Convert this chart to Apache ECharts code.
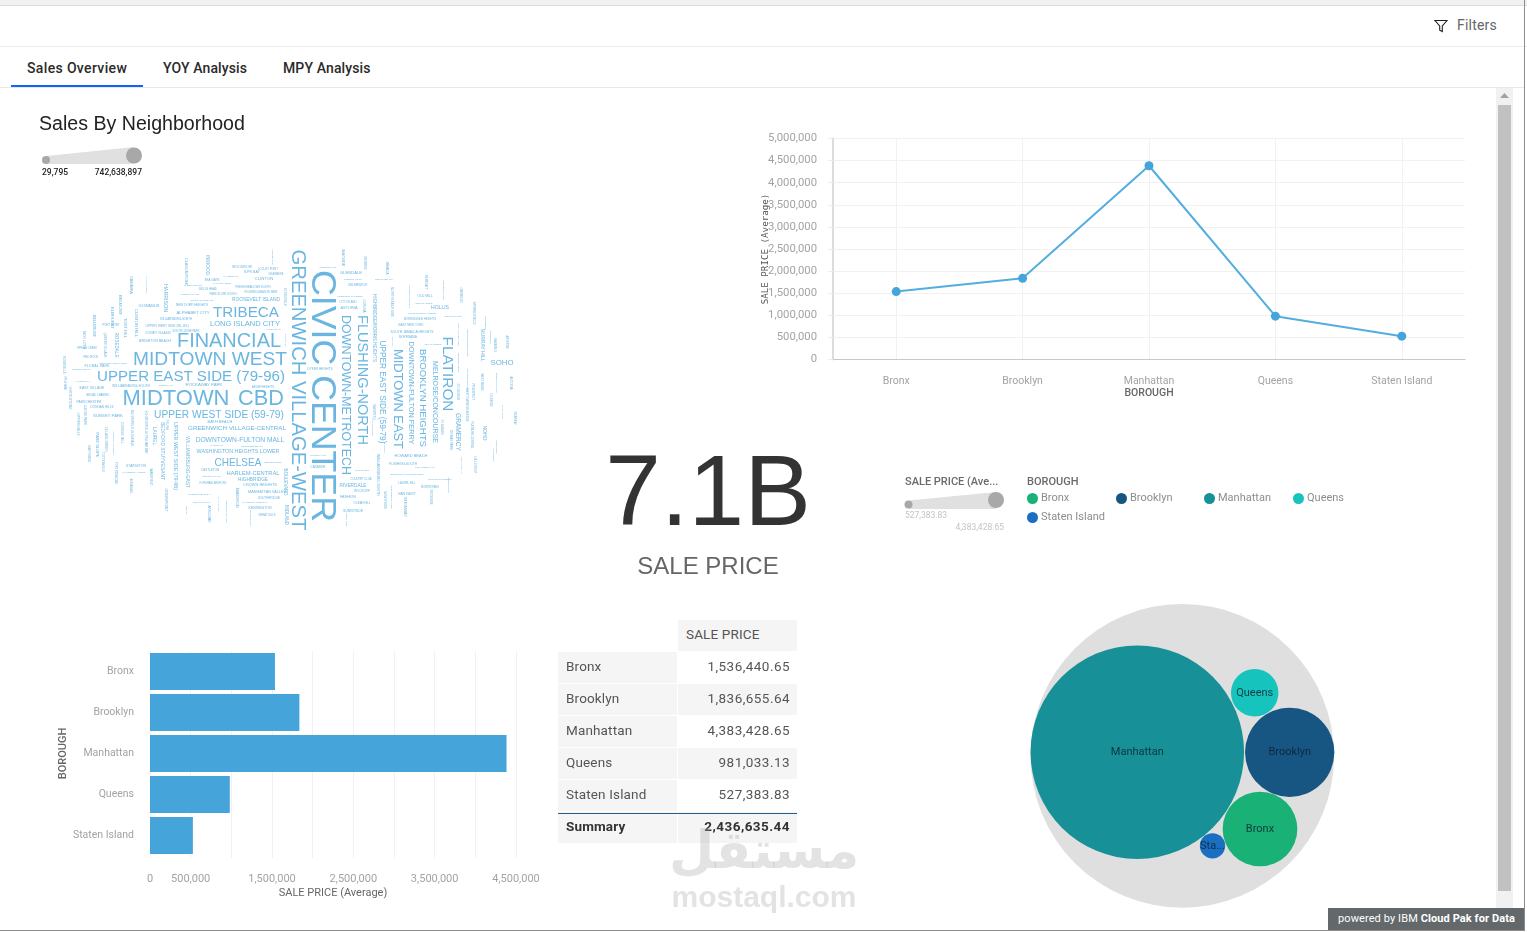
<!DOCTYPE html>
<html>
<head>
<meta charset="utf-8">
<title>Sales Overview</title>
<script src="https://cdn.jsdelivr.net/npm/echarts@6/dist/echarts.min.js"></script>
<style>
  html, body { margin: 0; width: 1527px; height: 932px; overflow: hidden; background: #fff; font-family: Roboto, "Noto Sans", sans-serif; }
  .box { position: absolute; }
  #chart { position: absolute; left: 0; top: 0; width: 1527px; height: 932px; }
  .tab { position: absolute; top: 59px; font-size: 14px; font-weight: 500; color: #2a2a2a; line-height: 18px; letter-spacing: .12px; }
  #table div { position: absolute; box-sizing: border-box; height: 31px; line-height: 29px; font-size: 13.5px; color: #555; letter-spacing: .45px; }
  #table div.lab { letter-spacing: .15px; }
  .shade { background: #f5f5f5; }
  .num { text-align: right; padding-right: 7px; }
  .lab { padding-left: 8px; }
</style>
</head>
<body>
<div class="box" style="left:0;top:0;width:1527px;height:5px;background:#f1f1f1;border-bottom:1px solid #dcdcdc"></div>
<div class="box" style="left:0;top:46px;width:1527px;height:1px;background:#ebebeb"></div>
<svg class="box" style="left:1434px;top:19px" width="14" height="14" viewBox="0 0 14 14"><path d="M1 1.5h12L8.3 7v5.5l-2.6-1.3V7z" fill="none" stroke="#222" stroke-width="1.1"/></svg>
<div class="box" style="left:1457px;top:17px;font-size:14px;color:#666;letter-spacing:.2px">Filters</div>
<div class="tab" style="left:27px;letter-spacing:.35px">Sales Overview</div>
<div class="tab" style="left:163px">YOY Analysis</div>
<div class="tab" style="left:283px">MPY Analysis</div>
<div class="box" style="left:0;top:87px;width:1525px;height:1px;background:#e8e8e8"></div>
<div class="box" style="left:11px;top:85px;width:132px;height:2px;background:#0f62fe"></div>

<div class="box" style="left:1496px;top:88px;width:17px;height:842px;background:#f1f1f1"></div>
<div class="box" style="left:1498px;top:105px;width:13px;height:786px;background:#c1c1c1"></div>
<svg class="box" style="left:1500px;top:93px" width="9" height="6"><path d="M4.5 0L9 5H0z" fill="#a3a3a3"/></svg>
<div class="box" style="left:1524px;top:0;width:1px;height:931px;background:#8d8d8d"></div>
<div class="box" style="left:0;top:930px;width:1525px;height:1px;background:#8d8d8d"></div>

<div id="chart"></div>
<div id="table"></div>

<div class="box" style="left:664px;top:815px;width:200px;text-align:center;font:bold 52px 'DejaVu Sans';color:rgba(170,170,170,.33);line-height:70px" dir="rtl">مستقل</div>
<div class="box" style="left:664px;top:880px;width:200px;text-align:center;font:bold 30px 'Liberation Sans';color:rgba(170,170,170,.33);line-height:34px">mostaql.com</div>

<div class="box" style="left:1328px;top:908px;width:196px;height:22px;background:#63696b;color:#fff;font-size:11px;line-height:21px;text-indent:10px;white-space:nowrap;letter-spacing:.1px">powered by IBM <b>Cloud Pak for Data</b></div>

<script>
const boroughs = ['Bronx', 'Brooklyn', 'Manhattan', 'Queens', 'Staten Island'];
const salePrice = [1536440.65, 1836655.64, 4383428.65, 981033.13, 527383.83];
const summaryPrice = 2436635.44;
const boroughColors = ['#19b176', '#175682', '#179098', '#17c3bd', '#1a6fc2'];
const barTickLabels = [0, 500000, 1500000, 2500000, 3500000, 4500000];

// circle pack: centre x, centre y, diameter
const packX = [1260, 1289.7, 1137.3, 1254.7, 1212.5];
const packY = [829, 752.3, 752.2, 692.8, 845.8];
const packSize = [74.7, 89.3, 213.5, 47.5, 25.3];
const packOuter = [1182.3, 755.8, 303.7];

// word cloud: word, centre x, centre y, length along the word
const flatWords = [
  ['TRIBECA',246,312,66],['LONG ISLAND CITY',245,323,70],['FINANCIAL',229,341,104],['MIDTOWN WEST',210,359,154],
  ['UPPER EAST SIDE (79-96)',191,376,188],['MIDTOWN',176,398,107],['CBD',261,398,46],['UPPER WEST SIDE (59-79)',219,414,130],
  ['GREENWICH VILLAGE-CENTRAL',237,427,98],['DOWNTOWN-FULTON MALL',240,439,89],['WASHINGTON HEIGHTS LOWER',238,451,83],
  ['CHELSEA',238,462,47],['HARLEM-CENTRAL',253,472,53],['CROWN HEIGHTS',260,484,34],['KENSINGTON',260,507,23],
  ['SOHO',502,362,23],['RIVERDALE',353,485,27],['ASTORIA',349,307,17],['BUSHWICK',358,284,19],['ROOSEVELT ISLAND',256,299,48],
  ['ALPHABET CITY',193,312,33],['GOWANUS',149,305,21],['CLINTON',264,278,19],['KIPS BAY',252,271,16],['SUNSET PARK',108,415,30],
  ['WOODROW',242,266,20],['LOCUST POINT',268,268,20],['GRASMERE',276,273,15],['MARBLE HILL',231,275,15],['SEA GATE',212,279,15],
  ['MANOR HEIGHTS',193,284,18],['OAKLAND GARDENS',222,283,18],['BULLS HEAD',208,288,18],['FRESH MEADOWS SOUTH',253,286,35],
  ['FLUSHING-MEADOW PARK',261,291,33],['MIDDLE VILLAGE',190,293,18],['PARK SLOPE SOUTH',223,293,27],['NORTH RIVERDALE',202,299,23],
  ['NEW DORP-HEIGHTS',192,304,32],['WILLIAMSBURG-NORTH',176,318,32],['UPPER WEST SIDE (96-116)',167,325,43],['JACKSON HEIGHTS',273,329,15],
  ['CONEY ISLAND',158,332,26],['SOUTH OZONE PARK',186,330,27],['BRIGHTON BEACH',155,340,32],['SPRING CREEK',87,347,20],['PORT IVORY',111,324,17],
  ['RED HOOK',91,356,15],['WEST NEW BRIGHTON',113,362,28],['FLORAL PARK',97,365,25],['PROSPECT HEIGHTS',81,369,18],['FAR ROCKAWAY',83,380,15],
  ['EAST VILLAGE',92,387,25],['WILLIAMSBURG-SOUTH',131,385,38],['BOERUM HILL',166,384,14],['ROCKAWAY PARK',204,384,37],['ARDEN HEIGHTS',263,386,22],
  ['FLATBUSH-CENTRAL',255,501,25],['CASTLETON',210,469,18],['BOROUGH PARK',212,475,18],['HIGHBRIDGE',253,479,30],['FORDHAM-BEDFORD',213,482,27],
  ['BATH BEACH',220,421,25],['MARINE PARK',217,444,13],['GERRITSEN BEACH',252,445,22],['BENSONHURST',273,461,17],['MANHATTAN VALLEY',267,491,38],
  ['SOUTHBRIDGE',269,497,22],['SHEEPSHEAD BAY',200,493,23],['OCEAN PARKWAY',202,501,18],['GREAT KILLS',267,514,17],['STAPLETON',136,465,20],
  ['MARINERS HARBOR',134,471,23],['PARKCHESTER',89,401,25],['DONGAN HILLS',102,406,23],['BROAD CHANNEL',98,394,23],['EMERSON HILL',328,266,17],
  ['GLENDALE',351,272,22],['FOREST HILLS',353,278,18],['PROSPECT GARDENS',350,295,25],['CITY ISLAND',348,301,17],['SOUTH BEACH',384,278,18],
  ['OLD MILL',425,295,15],['DOUGLASTON',424,302,17],['HOLLIS',440,307,18],['SPRINGFIELD GARDENS',422,312,28],['TOMPKINSVILLE',453,315,17],
  ['MORNINGSIDE HEIGHTS',420,318,32],['EAST NEW YORK',411,324,25],['SOUTH JAMAICA HEIGHTS',412,331,43],['MORRISANIA',408,336,18],['KEW GARDENS',433,343,17],
  ['DYKER HEIGHTS',320,368,25],['HOWARD BEACH',411,455,33],['FLUSHING-SOUTH',403,463,28],['RICHMOND HILL',425,466,20],['BEDFORD PARK/NORWOOD',407,473,33],
  ['SOUTHEAST QUEENS',440,478,23],['LAUREL HILL',407,482,17],['MORRIS PARK',430,486,18],['VAN NEST',407,493,18],['OCEAN HILL',362,502,17],
  ['SUNNYSIDE',353,510,20],['FASHION',348,496,16],['MILL BASIN',362,469,14],['COUNTRY CLUB',361,478,21],['WYCKOFF',362,490,16],['SILVER LAKE',318,454,16],['CANARSIE',318,466,15]
];
const upriteWords = [
  ['GREENWICH VILLAGE-WEST',298,390,281],['CIVIC CENTER',322,396,252],['DOWNTOWN-METROTECH',345,395,160],['FLUSHING-NORTH',362,380,130],
  ['UPPER EAST SIDE (59-79)',382,392,103],['MIDTOWN EAST',398,399,100],['DOWNTOWN-FULTON FERRY',411,393,103],['BROOKLYN HEIGHTS',423,398,98],
  ['MELROSE/CONCOURSE',435,402,82],['FLATIRON',447,374,75],['GRAMERCY',458,432,38],['WILLIAMSBURG-EAST',187,462,52],['UPPER WEST SIDE (79-96)',175,456,68],
  ['BEDFORD STUYVESANT',162,451,58],['GREENPOINT',166,500,23],['HIGHBRIDGE/MORRIS HEIGHTS',374,328,68],['MURRAY HILL',482,345,33],
  ['WOODLAWN',273,257,15],['INWOOD',207,265,20],['CLASON POINT',186,272,28],['HUNTS POINT',147,285,17],['CAMBRIA',131,285,18],['HARRISON',165,298,28],
  ['BELMONT',120,305,20],['ELMHURST',112,318,22],['BELLEROSE',94,326,22],['CLINTON HILL',136,323,28],['TODT HILL',125,328,20],['QUEENS VILLAGE',105,345,25],
  ['ROSEDALE',116,345,25],['NEW LOTS',84,340,18],['ROSSVILLE',64,365,18],['ELTINGVILLE',285,297,18],['GRANT CITY',286,340,12],['PELHAM',65,383,13],
  ['VILLAGE GREEN',106,439,25],['PARK SLOPE',97,445,25],['BAY RIDGE',89,454,17],['TOTTENVILLE',103,462,20],['CARROLL GARDENS',114,443,23],
  ['COBBLE HILL',122,433,22],['BLOOMFIELD GLENDALE',132,428,37],['SCHUYLERVILLE PELHAM BAY',146,432,43],['LAUREL',154,436,18],['FLUSH',167,425,10],
  ['PORT RICHMOND',116,473,22],['ANNADALE',131,486,15],['WAKEFIELD',151,477,17],['HOLLIS',187,510,8],['ARROCHAR',209,514,17],['BELLE HARBOR',219,504,15],
  ['BRONXDALE PARK',227,512,22],['MADISON',237,498,20],['GRYMES HILL',251,518,17],['BOULEVARD',285,482,27],['MIDLAND',286,515,20],['WHITESTONE',70,398,23],
  ['CYPRESS HILLS',78,424,23],['OZONE PARK',85,415,20],['BAYSIDE',343,258,17],['MORRIS',365,263,13],['JAMAICA',387,268,13],['SUNSET',426,282,15],
  ['HUGUENOT PARK',444,290,20],['OAKWOOD',461,295,15],['GRANITEVILLE KILLS',410,297,23],['NORTH BEACH SIDE',392,302,30],['CORONA',364,306,13],['KINGSBRIDGE',392,340,12],
  ['SPRINGFIELD',474,313,23],['EDGEMERE',486,323,13],['MOTT HAVEN AREA',459,335,23],['BEDFORD RIDGE HOUSE',468,343,27],['FIELDSTON',491,337,13],
  ['ROCKAWAY BEACH',459,363,20],['ARVERNE',507,342,13],['HAMMELS',495,345,14],['WESTCHESTER AREA',468,380,23],['WEST FARMS',482,382,17],
  ['BOROUGH PARK',497,383,20],['ASTORIA',511,383,13],['ST. GEORGE',458,392,17],['EAST FLATBUSH AVENUE',467,405,33],['PROSPECT',473,392,17],['ST. ALBANS',442,427,15],
  ['FLATBUSH-CENTRAL',472,435,27],['DITMAS PARK',451,440,20],['NEW SPRINGVILLE',462,465,17],['HILLCREST',475,465,17],['HOLLISWOOD',373,427,17],['MASPETH',374,412,15],
  ['BAISLEY',385,448,10],['WILLIAMSBURG-SOUTH',378,475,42],['SUNNYSIDE',385,500,18],['SOUTHSIDE BAYSIDE',392,497,23],['STEINWAY',405,507,20],['RIDGEWOOD',449,485,15],
  ['WOODSIDE',431,497,15],['REGO PARK',347,520,13],['DUMBO',491,400,13],['NAVY YARD',503,412,13],['FOXHURST',497,447,13],['LONGWOOD',494,455,13],['NOHO',484,433,15],['SEAVIEW',515,418,13]
];

const WORD_COLOR = '#45a4d9';
const measure = document.createElement('canvas').getContext('2d');
measure.font = '100px "Liberation Sans"';
const fitFont = (text, span) => span / measure.measureText(text).width * 100;

const wordData = (rows, rotate) => rows.map(([name, x, y, span]) => ({
  name,
  value: [x, y],
  label: { formatter: name, rotate, fontSize: fitFont(name, span) }
}));

const wordSeries = (rows, rotate, offset) => ({
  type: 'scatter', xAxisIndex: 2, yAxisIndex: 2, silent: true, symbolSize: 1,
  itemStyle: { color: 'transparent' },
  label: { show: true, position: 'inside', offset, color: WORD_COLOR, fontFamily: 'Liberation Sans', align: 'center', verticalAlign: 'middle' },
  data: wordData(rows, rotate),
  z: 3
});

const packSeries = boroughs.map((name, i) => ({
  name, type: 'scatter', xAxisIndex: 2, yAxisIndex: 2, silent: true,
  symbolSize: packSize[i], z: 5,
  itemStyle: { color: boroughColors[i], opacity: 1 },
  label: {
    show: true, position: 'inside', fontFamily: 'Roboto', fontSize: 11,
    color: 'rgba(10,30,45,.8)',
    formatter: name === 'Staten Island' ? 'Sta...' : name
  },
  data: [[packX[i], packY[i]]]
}));

// texts that are not tied to an axis
const note = (text, left, top, style, textAlign) => ({ text, left, top, textAlign, padding: 0, textStyle: Object.assign({ fontFamily: 'Roboto', fontWeight: 'normal' }, style) });

// one legend per entry, the reference lays them out in fixed columns
const LEGEND_LEFT = [1027, 1116, 1204, 1293, 1027];
const LEGEND_TOP = [493, 493, 493, 493, 512];

const GRID_LINE = '#f1f1f1';
const TICK_TEXT = '#a3a3a3';

const chart = echarts.init(document.getElementById('chart'), null, { renderer: 'canvas' });
chart.setOption({
  backgroundColor: 'transparent',
  animation: false,
  title: [
    note('Sales By Neighborhood', 39, 115, { fontFamily: 'Liberation Sans', fontSize: 19.6, color: '#222' }),
    note('7.1B', 708, 447, { fontFamily: 'Liberation Sans', fontSize: 100, color: '#333' }, 'center'),
    note('SALE PRICE', 708, 555, { fontFamily: 'Liberation Sans', fontSize: 24, color: '#666' }, 'center'),
    note('29,795', 42, 168, { fontSize: 8.5, fontWeight: 500, color: '#222' }),
    note('742,638,897', 142, 168, { fontSize: 8.5, fontWeight: 500, color: '#222' }, 'right'),
    note('SALE PRICE (Ave...', 905, 477, { fontSize: 11, fontWeight: 500, color: '#6a6a6a' }),
    note('BOROUGH', 1027, 477, { fontSize: 11, fontWeight: 500, color: '#6a6a6a' }),
    note('527,383.83', 905, 511, { fontSize: 8.5, color: '#c4c4c4' }),
    note('4,383,428.65', 1004, 523, { fontSize: 8.5, color: '#c4c4c4' }, 'right')
  ],
  legend: boroughs.map((b, i) => ({
    left: LEGEND_LEFT[i], top: LEGEND_TOP[i], padding: 0,
    itemWidth: 11, itemHeight: 11, icon: 'circle', selectedMode: false,
    data: [b],
    textStyle: { fontFamily: 'Roboto', fontSize: 11, color: '#8d8d8d', padding: [0, 0, 0, -2] }
  })),
  grid: [
    { left: 833, top: 138.5, width: 632, height: 221 },
    { left: 150, top: 651, width: 366, height: 205 },
    { left: 0, top: 0, width: 1527, height: 932 }
  ],
  xAxis: [
    {
      gridIndex: 0, type: 'category', data: boroughs,
      name: 'BOROUGH', nameLocation: 'middle', nameGap: 28,
      nameTextStyle: { fontFamily: 'Roboto', fontSize: 10.5, fontWeight: 500, color: '#666' },
      axisLine: { lineStyle: { color: '#c8c8c8', width: 1 } },
      axisTick: { alignWithLabel: true, length: 5, lineStyle: { color: '#eeeeee' } },
      axisLabel: { fontFamily: 'Roboto', fontSize: 10.5, color: TICK_TEXT, margin: 16 },
      splitLine: { show: true, alignWithLabel: true, lineStyle: { color: GRID_LINE } }
    },
    {
      gridIndex: 1, type: 'value', min: 0, max: 4500000, interval: 500000,
      name: 'SALE PRICE (Average)', nameLocation: 'middle', nameGap: 32,
      nameTextStyle: { fontFamily: 'Roboto', fontSize: 11, color: '#666' },
      axisLine: { show: false },
      axisTick: { show: true, length: 2, lineStyle: { color: GRID_LINE } },
      axisLabel: {
        fontFamily: 'Roboto', fontSize: 11, color: TICK_TEXT, margin: 18,
        formatter: v => barTickLabels.includes(v) ? v.toLocaleString('en-US') : ''
      },
      splitLine: { lineStyle: { color: GRID_LINE } }
    },
    { gridIndex: 2, type: 'value', min: 0, max: 1527, show: false }
  ],
  yAxis: [
    {
      gridIndex: 0, type: 'value', min: 0, max: 5000000, interval: 500000,
      // the reference lets this name run over the tick labels
      name: 'SALE PRICE (Average)', nameLocation: 'middle', nameGap: 63, nameMoveOverlap: false,
      nameTextStyle: { fontFamily: 'DejaVu Sans Mono', fontSize: 9.2, color: '#555' },
      axisLine: { show: true, lineStyle: { color: '#dcdcdc', width: 2 } },
      axisTick: { show: true, length: 5, lineStyle: { color: '#eeeeee' } },
      axisLabel: { fontFamily: 'Roboto', fontSize: 11.3, color: TICK_TEXT, margin: 16, padding: [2, 0, 0, 0], formatter: v => v.toLocaleString('en-US') },
      splitLine: { lineStyle: { color: GRID_LINE } }
    },
    {
      gridIndex: 1, type: 'category', data: boroughs, inverse: true,
      name: 'BOROUGH', nameLocation: 'middle', nameGap: 81,
      nameTextStyle: { fontFamily: 'Roboto', fontSize: 11, fontWeight: 500, color: '#666' },
      axisLine: { show: false },
      axisTick: { show: false },
      axisLabel: { fontFamily: 'Roboto', fontSize: 10.5, color: TICK_TEXT, margin: 16, padding: [3, 0, 0, 0] }
    },
    { gridIndex: 2, type: 'value', min: 0, max: 932, inverse: true, show: false }
  ],
  graphic: [
    // size legends
    { type: 'polygon', silent: true, shape: { points: [[46, 156], [134, 147], [134, 164], [46, 164]] }, style: { fill: '#e0e0e0' } },
    { type: 'circle', silent: true, shape: { cx: 46, cy: 160, r: 4 }, style: { fill: '#a8a8a8' } },
    { type: 'circle', silent: true, shape: { cx: 134, cy: 155.5, r: 8 }, style: { fill: '#a8a8a8' } },
    { type: 'polygon', silent: true, shape: { points: [[909, 500.5], [996, 492], [996, 509], [909, 509]] }, style: { fill: '#e0e0e0' } },
    { type: 'circle', silent: true, shape: { cx: 908.5, cy: 504.5, r: 4 }, style: { fill: '#a8a8a8' } },
    { type: 'circle', silent: true, shape: { cx: 996, cy: 500, r: 8 }, style: { fill: '#a8a8a8' } }
  ],
  series: [
    {
      name: 'SALE PRICE', type: 'line', xAxisIndex: 0, yAxisIndex: 0, data: salePrice,
      symbol: 'circle', symbolSize: 9,
      lineStyle: { color: '#52aee0', width: 2 },
      itemStyle: { color: WORD_COLOR }
    },
    {
      name: 'SALE PRICE bar', type: 'bar', xAxisIndex: 1, yAxisIndex: 1, data: salePrice,
      barCategoryGap: '10%',
      itemStyle: { color: WORD_COLOR }
    },
    wordSeries(flatWords, 0, [0, 1]),
    wordSeries(upriteWords, -90, [0, 0]),
    {
      name: 'all', type: 'scatter', xAxisIndex: 2, yAxisIndex: 2, silent: true, z: 4,
      symbolSize: packOuter[2],
      itemStyle: { color: '#dfdfdf', opacity: 1 },
      data: [[packOuter[0], packOuter[1]]]
    },
    ...packSeries
  ]
});

// table
const table = document.getElementById('table');
const COL_A = 558, COL_B = 678, COL_W = 119, ROW_TOP = 652, ROW_H = 32;
const fmt = v => v.toLocaleString('en-US', { minimumFractionDigits: 2, maximumFractionDigits: 2 });
function cell(text, left, top, cls, extra) {
  const d = document.createElement('div');
  d.textContent = text;
  d.className = cls;
  d.style.cssText = `left:${left}px;top:${top}px;width:${COL_W}px;${extra || ''}`;
  table.appendChild(d);
}
cell('SALE PRICE', COL_B, 620, 'shade lab');
boroughs.forEach((b, i) => {
  const top = ROW_TOP + i * ROW_H;
  cell(b, COL_A, top, 'shade lab');
  cell(fmt(salePrice[i]), COL_B, top, 'num' + (i % 2 ? ' shade' : ''));
});
const sumTop = ROW_TOP + boroughs.length * ROW_H;
cell('Summary', COL_A, sumTop, 'shade lab', 'font-weight:700;color:#333');
cell(fmt(summaryPrice), COL_B, sumTop, 'shade num', 'font-weight:700;color:#333');
cell('', COL_A, sumTop + 1, '', 'height:1px;width:239px;background:#1f5f8f');
</script>
</body>
</html>
